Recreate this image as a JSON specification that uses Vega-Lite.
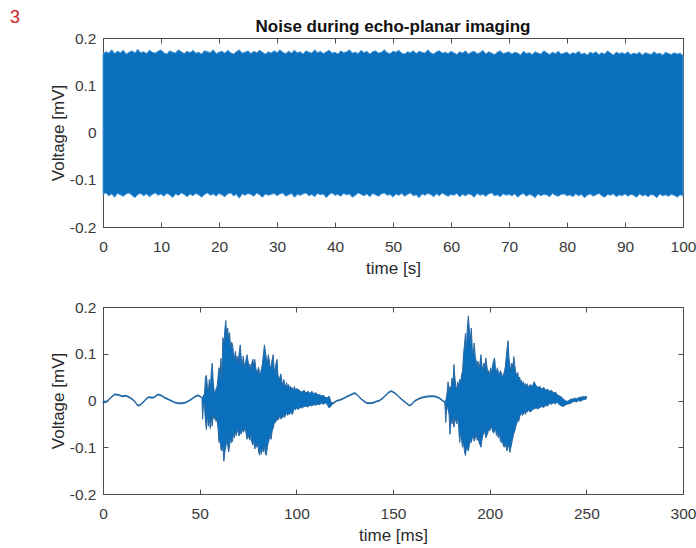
{
 "$schema": "https://vega.github.io/schema/vega-lite/v6.json",
 "autosize": {"type": "none"},
 "padding": {"left": 103, "top": 38, "right": 593, "bottom": 510},
 "background": "white",
 "title": {"text": "3", "anchor": "start", "frame": "group", "color": "#d2232a", "fontSize": 18, "fontWeight": "normal", "font": "Liberation Sans", "dx": -93, "offset": -9},
 "config": {
  "font": "Liberation Sans",
  "view": {"stroke": "#4d4d4d", "strokeWidth": 1},
  "axis": {"domainColor": "#4d4d4d", "tickColor": "#4d4d4d", "labelColor": "#3a3a3a", "labelFontSize": 15.5, "titleFontSize": 17, "titleFontWeight": "normal", "titleColor": "#2b2b2b", "grid": false, "tickSize": -5, "labelFlush": false, "labelOverlap": false, "labelBound": false}
 },
 "datasets": {
  "epi": [
{"t":0,"lo":-0.131,"hi":0.166},{"t":0.5,"lo":-0.128,"hi":0.171},{"t":1,"lo":-0.134,"hi":0.168},{"t":1.5,"lo":-0.13,"hi":0.175},{"t":2,"lo":-0.137,"hi":0.167},{"t":2.5,"lo":-0.129,"hi":0.172},{"t":3,"lo":-0.132,"hi":0.169},{"t":3.5,"lo":-0.135,"hi":0.174},{"t":4,"lo":-0.13,"hi":0.166},{"t":4.5,"lo":-0.128,"hi":0.17},{"t":5,"lo":-0.133,"hi":0.173},{"t":5.5,"lo":-0.138,"hi":0.168},{"t":6,"lo":-0.131,"hi":0.176},{"t":6.5,"lo":-0.129,"hi":0.169},{"t":7,"lo":-0.134,"hi":0.171},{"t":7.5,"lo":-0.13,"hi":0.167},{"t":8,"lo":-0.136,"hi":0.174},{"t":8.5,"lo":-0.131,"hi":0.17},{"t":9,"lo":-0.128,"hi":0.168},{"t":9.5,"lo":-0.133,"hi":0.172},{"t":10,"lo":-0.13,"hi":0.175},
{"t":10.5,"lo":-0.135,"hi":0.169},{"t":11,"lo":-0.129,"hi":0.166},{"t":11.5,"lo":-0.132,"hi":0.173},{"t":12,"lo":-0.138,"hi":0.17},{"t":12.5,"lo":-0.13,"hi":0.168},{"t":13,"lo":-0.133,"hi":0.175},{"t":13.5,"lo":-0.128,"hi":0.171},{"t":14,"lo":-0.131,"hi":0.167},{"t":14.5,"lo":-0.136,"hi":0.172},{"t":15,"lo":-0.13,"hi":0.169},{"t":15.5,"lo":-0.134,"hi":0.174},{"t":16,"lo":-0.129,"hi":0.168},{"t":16.5,"lo":-0.132,"hi":0.17},{"t":17,"lo":-0.137,"hi":0.166},{"t":17.5,"lo":-0.131,"hi":0.173},{"t":18,"lo":-0.128,"hi":0.171},{"t":18.5,"lo":-0.133,"hi":0.169},{"t":19,"lo":-0.13,"hi":0.175},{"t":19.5,"lo":-0.135,"hi":0.167},{"t":20,"lo":-0.129,"hi":0.17},
{"t":20.5,"lo":-0.132,"hi":0.172},{"t":21,"lo":-0.136,"hi":0.168},{"t":21.5,"lo":-0.13,"hi":0.174},{"t":22,"lo":-0.128,"hi":0.169},{"t":22.5,"lo":-0.134,"hi":0.166},{"t":23,"lo":-0.131,"hi":0.171},{"t":23.5,"lo":-0.139,"hi":0.175},{"t":24,"lo":-0.13,"hi":0.168},{"t":24.5,"lo":-0.133,"hi":0.17},{"t":25,"lo":-0.129,"hi":0.173},{"t":25.5,"lo":-0.131,"hi":0.167},{"t":26,"lo":-0.135,"hi":0.172},{"t":26.5,"lo":-0.128,"hi":0.169},{"t":27,"lo":-0.132,"hi":0.174},{"t":27.5,"lo":-0.137,"hi":0.17},{"t":28,"lo":-0.13,"hi":0.166},{"t":28.5,"lo":-0.133,"hi":0.171},{"t":29,"lo":-0.131,"hi":0.168},{"t":29.5,"lo":-0.129,"hi":0.173},{"t":30,"lo":-0.134,"hi":0.169},
{"t":30.5,"lo":-0.13,"hi":0.175},{"t":31,"lo":-0.128,"hi":0.17},{"t":31.5,"lo":-0.135,"hi":0.167},{"t":32,"lo":-0.132,"hi":0.172},{"t":32.5,"lo":-0.129,"hi":0.168},{"t":33,"lo":-0.137,"hi":0.174},{"t":33.5,"lo":-0.131,"hi":0.169},{"t":34,"lo":-0.133,"hi":0.171},{"t":34.5,"lo":-0.13,"hi":0.166},{"t":35,"lo":-0.128,"hi":0.173},{"t":35.5,"lo":-0.134,"hi":0.17},{"t":36,"lo":-0.131,"hi":0.168},{"t":36.5,"lo":-0.136,"hi":0.175},{"t":37,"lo":-0.129,"hi":0.169},{"t":37.5,"lo":-0.132,"hi":0.172},{"t":38,"lo":-0.13,"hi":0.167},{"t":38.5,"lo":-0.138,"hi":0.171},{"t":39,"lo":-0.131,"hi":0.174},{"t":39.5,"lo":-0.128,"hi":0.168},{"t":40,"lo":-0.133,"hi":0.17},
{"t":40.5,"lo":-0.131,"hi":0.166},{"t":41,"lo":-0.135,"hi":0.173},{"t":41.5,"lo":-0.129,"hi":0.169},{"t":42,"lo":-0.132,"hi":0.171},{"t":42.5,"lo":-0.13,"hi":0.175},{"t":43,"lo":-0.137,"hi":0.168},{"t":43.5,"lo":-0.133,"hi":0.17},{"t":44,"lo":-0.128,"hi":0.167},{"t":44.5,"lo":-0.131,"hi":0.174},{"t":45,"lo":-0.134,"hi":0.169},{"t":45.5,"lo":-0.13,"hi":0.172},{"t":46,"lo":-0.136,"hi":0.166},{"t":46.5,"lo":-0.129,"hi":0.171},{"t":47,"lo":-0.132,"hi":0.173},{"t":47.5,"lo":-0.135,"hi":0.168},{"t":48,"lo":-0.13,"hi":0.17},{"t":48.5,"lo":-0.128,"hi":0.175},{"t":49,"lo":-0.133,"hi":0.169},{"t":49.5,"lo":-0.131,"hi":0.167},{"t":50,"lo":-0.137,"hi":0.172},
{"t":50.5,"lo":-0.13,"hi":0.17},{"t":51,"lo":-0.133,"hi":0.174},{"t":51.5,"lo":-0.129,"hi":0.168},{"t":52,"lo":-0.135,"hi":0.166},{"t":52.5,"lo":-0.131,"hi":0.171},{"t":53,"lo":-0.128,"hi":0.169},{"t":53.5,"lo":-0.134,"hi":0.173},{"t":54,"lo":-0.132,"hi":0.167},{"t":54.5,"lo":-0.138,"hi":0.172},{"t":55,"lo":-0.13,"hi":0.17},{"t":55.5,"lo":-0.133,"hi":0.168},{"t":56,"lo":-0.129,"hi":0.175},{"t":56.5,"lo":-0.131,"hi":0.169},{"t":57,"lo":-0.136,"hi":0.166},{"t":57.5,"lo":-0.13,"hi":0.171},{"t":58,"lo":-0.134,"hi":0.173},{"t":58.5,"lo":-0.128,"hi":0.168},{"t":59,"lo":-0.132,"hi":0.17},{"t":59.5,"lo":-0.135,"hi":0.167},{"t":60,"lo":-0.131,"hi":0.172},
{"t":60.5,"lo":-0.133,"hi":0.169},{"t":61,"lo":-0.129,"hi":0.165},{"t":61.5,"lo":-0.136,"hi":0.171},{"t":62,"lo":-0.131,"hi":0.168},{"t":62.5,"lo":-0.134,"hi":0.173},{"t":63,"lo":-0.13,"hi":0.166},{"t":63.5,"lo":-0.132,"hi":0.17},{"t":64,"lo":-0.137,"hi":0.172},{"t":64.5,"lo":-0.129,"hi":0.167},{"t":65,"lo":-0.133,"hi":0.169},{"t":65.5,"lo":-0.131,"hi":0.174},{"t":66,"lo":-0.135,"hi":0.166},{"t":66.5,"lo":-0.13,"hi":0.171},{"t":67,"lo":-0.128,"hi":0.168},{"t":67.5,"lo":-0.134,"hi":0.165},{"t":68,"lo":-0.132,"hi":0.17},{"t":68.5,"lo":-0.136,"hi":0.173},{"t":69,"lo":-0.13,"hi":0.167},{"t":69.5,"lo":-0.133,"hi":0.169},{"t":70,"lo":-0.131,"hi":0.171},
{"t":70.5,"lo":-0.134,"hi":0.166},{"t":71,"lo":-0.13,"hi":0.17},{"t":71.5,"lo":-0.137,"hi":0.168},{"t":72,"lo":-0.132,"hi":0.164},{"t":72.5,"lo":-0.129,"hi":0.172},{"t":73,"lo":-0.135,"hi":0.167},{"t":73.5,"lo":-0.131,"hi":0.169},{"t":74,"lo":-0.133,"hi":0.165},{"t":74.5,"lo":-0.138,"hi":0.171},{"t":75,"lo":-0.13,"hi":0.168},{"t":75.5,"lo":-0.134,"hi":0.166},{"t":76,"lo":-0.131,"hi":0.173},{"t":76.5,"lo":-0.132,"hi":0.169},{"t":77,"lo":-0.136,"hi":0.165},{"t":77.5,"lo":-0.129,"hi":0.17},{"t":78,"lo":-0.133,"hi":0.167},{"t":78.5,"lo":-0.135,"hi":0.172},{"t":79,"lo":-0.131,"hi":0.166},{"t":79.5,"lo":-0.13,"hi":0.168},{"t":80,"lo":-0.134,"hi":0.17},
{"t":80.5,"lo":-0.132,"hi":0.165},{"t":81,"lo":-0.136,"hi":0.169},{"t":81.5,"lo":-0.13,"hi":0.167},{"t":82,"lo":-0.134,"hi":0.172},{"t":82.5,"lo":-0.131,"hi":0.166},{"t":83,"lo":-0.138,"hi":0.168},{"t":83.5,"lo":-0.133,"hi":0.164},{"t":84,"lo":-0.13,"hi":0.17},{"t":84.5,"lo":-0.135,"hi":0.167},{"t":85,"lo":-0.132,"hi":0.171},{"t":85.5,"lo":-0.129,"hi":0.165},{"t":86,"lo":-0.134,"hi":0.169},{"t":86.5,"lo":-0.137,"hi":0.166},{"t":87,"lo":-0.131,"hi":0.173},{"t":87.5,"lo":-0.133,"hi":0.168},{"t":88,"lo":-0.13,"hi":0.164},{"t":88.5,"lo":-0.136,"hi":0.17},{"t":89,"lo":-0.132,"hi":0.167},{"t":89.5,"lo":-0.134,"hi":0.169},{"t":90,"lo":-0.13,"hi":0.166},
{"t":90.5,"lo":-0.135,"hi":0.171},{"t":91,"lo":-0.131,"hi":0.165},{"t":91.5,"lo":-0.133,"hi":0.168},{"t":92,"lo":-0.137,"hi":0.166},{"t":92.5,"lo":-0.13,"hi":0.17},{"t":93,"lo":-0.134,"hi":0.164},{"t":93.5,"lo":-0.132,"hi":0.169},{"t":94,"lo":-0.136,"hi":0.167},{"t":94.5,"lo":-0.131,"hi":0.165},{"t":95,"lo":-0.133,"hi":0.171},{"t":95.5,"lo":-0.138,"hi":0.166},{"t":96,"lo":-0.13,"hi":0.168},{"t":96.5,"lo":-0.134,"hi":0.164},{"t":97,"lo":-0.132,"hi":0.17},{"t":97.5,"lo":-0.135,"hi":0.167},{"t":98,"lo":-0.131,"hi":0.165},{"t":98.5,"lo":-0.133,"hi":0.169},{"t":99,"lo":-0.137,"hi":0.166},{"t":99.5,"lo":-0.132,"hi":0.168},{"t":100,"lo":-0.134,"hi":0.163}
  ],
  "zoom": [
{"t":0,"lo":-0.006,"hi":-0.002},{"t":2,"lo":-0.003,"hi":-0.001},{"t":4,"lo":0.005,"hi":0.007},{"t":6,"lo":0.012,"hi":0.014},{"t":8,"lo":0.011,"hi":0.013},{"t":10,"lo":0.008,"hi":0.01},{"t":12,"lo":0.009,"hi":0.011},{"t":14,"lo":0.005,"hi":0.007},{"t":16,"lo":-0.001,"hi":0.001},{"t":18,"lo":-0.012,"hi":-0.01},{"t":19,"lo":-0.011,"hi":-0.009},{"t":20.5,"lo":-0.006,"hi":-0.004},{"t":22,"lo":0.001,"hi":0.003},{"t":23.5,"lo":0.006,"hi":0.008},{"t":26,"lo":0.005,"hi":0.007},{"t":28.5,"lo":0.012,"hi":0.014},{"t":30,"lo":0.01,"hi":0.012},{"t":32,"lo":0.005,"hi":0.007},{"t":34,"lo":0.001,"hi":0.003},{"t":35.5,"lo":-0.002,"hi":0.0},{"t":37,"lo":-0.005,"hi":-0.003},{"t":39,"lo":-0.007,"hi":-0.005},{"t":41,"lo":-0.007,"hi":-0.005},{"t":43,"lo":-0.005,"hi":-0.003},{"t":45.5,"lo":0.001,"hi":0.003},{"t":47.5,"lo":0.007,"hi":0.009},{"t":49,"lo":0.01,"hi":0.012},{"t":50.5,"lo":0.007,"hi":0.009},{"t":51.2,"lo":0.004,"hi":0.006},
{"t":51.5,"lo":-0.04,"hi":0.008},{"t":52,"lo":-0.005,"hi":0.01},{"t":52.5,"lo":-0.012,"hi":0.015},{"t":53,"lo":-0.045,"hi":0.05},{"t":53.5,"lo":-0.062,"hi":0.054},{"t":54,"lo":-0.03,"hi":0.03},{"t":54.5,"lo":-0.055,"hi":0.02},{"t":55,"lo":-0.04,"hi":0.045},{"t":55.5,"lo":-0.06,"hi":0.025},{"t":56,"lo":-0.035,"hi":0.06},{"t":56.5,"lo":-0.055,"hi":0.08},{"t":57,"lo":-0.03,"hi":0.04},{"t":57.5,"lo":-0.04,"hi":0.02},{"t":58,"lo":-0.035,"hi":0.015},{"t":58.5,"lo":-0.045,"hi":0.025},{"t":59,"lo":-0.04,"hi":0.03},{"t":59.5,"lo":-0.06,"hi":0.05},{"t":60,"lo":-0.09,"hi":0.07},{"t":60.5,"lo":-0.085,"hi":0.06},{"t":61,"lo":-0.104,"hi":0.09},{"t":61.5,"lo":-0.108,"hi":0.05},{"t":62,"lo":-0.095,"hi":0.134},{"t":62.5,"lo":-0.13,"hi":0.12},{"t":63,"lo":-0.11,"hi":0.15},{"t":63.5,"lo":-0.1,"hi":0.171},{"t":64,"lo":-0.085,"hi":0.14},{"t":64.5,"lo":-0.095,"hi":0.155},{"t":65,"lo":-0.11,"hi":0.13},{"t":65.5,"lo":-0.097,"hi":0.145},{"t":66,"lo":-0.08,"hi":0.11},{"t":66.5,"lo":-0.09,"hi":0.125},{"t":67,"lo":-0.087,"hi":0.12},{"t":67.5,"lo":-0.07,"hi":0.1},{"t":68,"lo":-0.08,"hi":0.09},{"t":68.5,"lo":-0.065,"hi":0.105},{"t":69,"lo":-0.075,"hi":0.085},{"t":69.5,"lo":-0.06,"hi":0.095},{"t":70,"lo":-0.07,"hi":0.08},{"t":70.5,"lo":-0.076,"hi":0.105},{"t":71,"lo":-0.065,"hi":0.119},{"t":71.5,"lo":-0.072,"hi":0.09},{"t":72,"lo":-0.06,"hi":0.075},{"t":72.5,"lo":-0.068,"hi":0.095},{"t":73,"lo":-0.065,"hi":0.08},{"t":73.5,"lo":-0.058,"hi":0.07},{"t":74,"lo":-0.07,"hi":0.088},{"t":74.5,"lo":-0.083,"hi":0.098},{"t":75,"lo":-0.075,"hi":0.085},{"t":75.5,"lo":-0.08,"hi":0.07},{"t":76,"lo":-0.085,"hi":0.078},{"t":76.5,"lo":-0.07,"hi":0.065},{"t":77,"lo":-0.09,"hi":0.08},{"t":77.5,"lo":-0.095,"hi":0.088},{"t":78,"lo":-0.085,"hi":0.075},{"t":78.5,"lo":-0.104,"hi":0.088},{"t":79,"lo":-0.095,"hi":0.07},{"t":79.5,"lo":-0.1,"hi":0.06},{"t":80,"lo":-0.09,"hi":0.065},{"t":80.5,"lo":-0.11,"hi":0.071},{"t":81,"lo":-0.117,"hi":0.055},{"t":81.5,"lo":-0.105,"hi":0.06},{"t":82,"lo":-0.115,"hi":0.068},{"t":82.5,"lo":-0.1,"hi":0.08},{"t":83,"lo":-0.11,"hi":0.1},{"t":83.5,"lo":-0.095,"hi":0.119},{"t":84,"lo":-0.115,"hi":0.105},{"t":84.5,"lo":-0.117,"hi":0.09},{"t":85,"lo":-0.1,"hi":0.08},{"t":85.5,"lo":-0.09,"hi":0.098},{"t":86,"lo":-0.083,"hi":0.085},{"t":86.5,"lo":-0.075,"hi":0.07},{"t":87,"lo":-0.083,"hi":0.075},{"t":87.5,"lo":-0.065,"hi":0.088},{"t":88,"lo":-0.06,"hi":0.098},{"t":88.5,"lo":-0.05,"hi":0.07},{"t":89,"lo":-0.047,"hi":0.06},{"t":89.5,"lo":-0.045,"hi":0.08},{"t":90,"lo":-0.04,"hi":0.088},{"t":90.5,"lo":-0.042,"hi":0.055},{"t":91,"lo":-0.038,"hi":0.045},{"t":91.5,"lo":-0.033,"hi":0.05},{"t":92,"lo":-0.04,"hi":0.057},{"t":92.5,"lo":-0.035,"hi":0.04},{"t":93,"lo":-0.037,"hi":0.035},{"t":93.5,"lo":-0.03,"hi":0.045},{"t":94,"lo":-0.036,"hi":0.034},{"t":94.5,"lo":-0.03,"hi":0.03},{"t":95,"lo":-0.028,"hi":0.038},{"t":95.5,"lo":-0.032,"hi":0.028},{"t":96,"lo":-0.026,"hi":0.034},{"t":96.5,"lo":-0.03,"hi":0.025},{"t":97,"lo":-0.025,"hi":0.03},{"t":97.5,"lo":-0.027,"hi":0.026},{"t":98,"lo":-0.03,"hi":0.027},{"t":98.5,"lo":-0.022,"hi":0.022},{"t":99,"lo":-0.018,"hi":0.03},{"t":99.5,"lo":-0.02,"hi":0.022},{"t":100,"lo":-0.016,"hi":0.025},{"t":101,"lo":-0.019,"hi":0.024},{"t":102,"lo":-0.015,"hi":0.02},{"t":103,"lo":-0.016,"hi":0.018},{"t":104,"lo":-0.013,"hi":0.022},{"t":105,"lo":-0.012,"hi":0.016},{"t":106,"lo":-0.014,"hi":0.02},{"t":107,"lo":-0.01,"hi":0.015},{"t":108,"lo":-0.012,"hi":0.02},{"t":109,"lo":-0.009,"hi":0.014},{"t":110,"lo":-0.01,"hi":0.017},{"t":111,"lo":-0.008,"hi":0.012},{"t":112,"lo":-0.009,"hi":0.013},{"t":113,"lo":-0.006,"hi":0.01},{"t":114,"lo":-0.008,"hi":0.011},{"t":115,"lo":-0.005,"hi":0.007},{"t":116,"lo":-0.009,"hi":0.006},{"t":117,"lo":-0.016,"hi":0.009},{"t":118,"lo":-0.011,"hi":-0.004},
{"t":119,"lo":-0.007,"hi":-0.005},{"t":120.7,"lo":-0.002,"hi":0.0},{"t":122.5,"lo":0.0,"hi":0.002},{"t":124.2,"lo":0.003,"hi":0.005},{"t":126,"lo":0.007,"hi":0.009},{"t":127.6,"lo":0.01,"hi":0.012},{"t":129,"lo":0.013,"hi":0.015},{"t":130.2,"lo":0.015,"hi":0.017},{"t":131.5,"lo":0.011,"hi":0.013},{"t":132.8,"lo":0.005,"hi":0.007},{"t":134.5,"lo":-0.001,"hi":0.001},{"t":136.2,"lo":-0.006,"hi":-0.004},{"t":138,"lo":-0.007,"hi":-0.005},{"t":139.7,"lo":-0.006,"hi":-0.004},{"t":141.5,"lo":-0.003,"hi":-0.001},{"t":143.1,"lo":-0.001,"hi":0.001},{"t":145,"lo":0.005,"hi":0.007},{"t":146.6,"lo":0.012,"hi":0.014},{"t":148,"lo":0.017,"hi":0.019},{"t":149.2,"lo":0.019,"hi":0.021},{"t":150.5,"lo":0.016,"hi":0.018},{"t":151.8,"lo":0.012,"hi":0.014},{"t":153.5,"lo":0.005,"hi":0.007},{"t":155.2,"lo":-0.001,"hi":0.001},{"t":157,"lo":-0.007,"hi":-0.005},{"t":158.7,"lo":-0.012,"hi":-0.01},{"t":160,"lo":-0.008,"hi":-0.006},{"t":161.2,"lo":-0.002,"hi":0.0},{"t":163,"lo":0.002,"hi":0.004},{"t":164.7,"lo":0.005,"hi":0.007},{"t":167,"lo":0.007,"hi":0.009},{"t":169,"lo":0.008,"hi":0.01},{"t":171,"lo":0.008,"hi":0.01},{"t":172.4,"lo":0.007,"hi":0.009},{"t":174,"lo":0.004,"hi":0.006},{"t":175.9,"lo":-0.002,"hi":0.0},{"t":176.8,"lo":-0.004,"hi":-0.002},
{"t":177.3,"lo":-0.047,"hi":0.0},{"t":177.8,"lo":-0.01,"hi":0.01},{"t":178.5,"lo":-0.02,"hi":0.04},{"t":179,"lo":-0.03,"hi":0.02},{"t":179.5,"lo":-0.072,"hi":0.03},{"t":180,"lo":-0.04,"hi":0.025},{"t":180.5,"lo":-0.05,"hi":0.048},{"t":181,"lo":-0.035,"hi":0.035},{"t":181.5,"lo":-0.057,"hi":0.077},{"t":182,"lo":-0.045,"hi":0.05},{"t":182.5,"lo":-0.04,"hi":0.03},{"t":183,"lo":-0.05,"hi":0.025},{"t":183.5,"lo":-0.035,"hi":0.04},{"t":184,"lo":-0.06,"hi":0.03},{"t":184.5,"lo":-0.09,"hi":0.045},{"t":185,"lo":-0.07,"hi":0.04},{"t":185.5,"lo":-0.085,"hi":0.055},{"t":186,"lo":-0.1,"hi":0.064},{"t":186.5,"lo":-0.09,"hi":0.1},{"t":187,"lo":-0.11,"hi":0.12},{"t":187.5,"lo":-0.118,"hi":0.144},{"t":188,"lo":-0.1,"hi":0.11},{"t":188.5,"lo":-0.105,"hi":0.16},{"t":189,"lo":-0.108,"hi":0.181},{"t":189.5,"lo":-0.095,"hi":0.15},{"t":190,"lo":-0.085,"hi":0.13},{"t":190.5,"lo":-0.09,"hi":0.155},{"t":191,"lo":-0.08,"hi":0.11},{"t":191.5,"lo":-0.075,"hi":0.1},{"t":192,"lo":-0.087,"hi":0.123},{"t":192.5,"lo":-0.08,"hi":0.095},{"t":193,"lo":-0.07,"hi":0.085},{"t":193.5,"lo":-0.085,"hi":0.075},{"t":194,"lo":-0.078,"hi":0.084},{"t":194.5,"lo":-0.09,"hi":0.07},{"t":195,"lo":-0.095,"hi":0.08},{"t":195.5,"lo":-0.1,"hi":0.098},{"t":196,"lo":-0.085,"hi":0.075},{"t":196.5,"lo":-0.075,"hi":0.065},{"t":197,"lo":-0.07,"hi":0.08},{"t":197.5,"lo":-0.065,"hi":0.07},{"t":198,"lo":-0.08,"hi":0.091},{"t":198.5,"lo":-0.075,"hi":0.075},{"t":199,"lo":-0.07,"hi":0.06},{"t":199.5,"lo":-0.06,"hi":0.064},{"t":200,"lo":-0.065,"hi":0.055},{"t":200.5,"lo":-0.06,"hi":0.07},{"t":201,"lo":-0.055,"hi":0.06},{"t":201.5,"lo":-0.065,"hi":0.075},{"t":202,"lo":-0.07,"hi":0.085},{"t":202.5,"lo":-0.065,"hi":0.091},{"t":203,"lo":-0.06,"hi":0.07},{"t":203.5,"lo":-0.075,"hi":0.06},{"t":204,"lo":-0.068,"hi":0.07},{"t":204.5,"lo":-0.08,"hi":0.06},{"t":205,"lo":-0.07,"hi":0.055},{"t":205.5,"lo":-0.085,"hi":0.064},{"t":206,"lo":-0.09,"hi":0.06},{"t":206.5,"lo":-0.085,"hi":0.05},{"t":207,"lo":-0.095,"hi":0.055},{"t":207.5,"lo":-0.1,"hi":0.06},{"t":208,"lo":-0.092,"hi":0.07},{"t":208.5,"lo":-0.1,"hi":0.09},{"t":209,"lo":-0.108,"hi":0.11},{"t":209.5,"lo":-0.095,"hi":0.128},{"t":210,"lo":-0.1,"hi":0.09},{"t":210.5,"lo":-0.111,"hi":0.075},{"t":211,"lo":-0.1,"hi":0.065},{"t":211.5,"lo":-0.09,"hi":0.08},{"t":212,"lo":-0.08,"hi":0.07},{"t":212.5,"lo":-0.07,"hi":0.094},{"t":213,"lo":-0.065,"hi":0.075},{"t":213.5,"lo":-0.055,"hi":0.06},{"t":214,"lo":-0.05,"hi":0.055},{"t":214.5,"lo":-0.04,"hi":0.06},{"t":215,"lo":-0.045,"hi":0.045},{"t":215.5,"lo":-0.035,"hi":0.05},{"t":216,"lo":-0.03,"hi":0.04},{"t":216.5,"lo":-0.028,"hi":0.043},{"t":217,"lo":-0.032,"hi":0.035},{"t":217.5,"lo":-0.028,"hi":0.04},{"t":218,"lo":-0.025,"hi":0.032},{"t":218.5,"lo":-0.03,"hi":0.036},{"t":219,"lo":-0.022,"hi":0.03},{"t":219.5,"lo":-0.025,"hi":0.036},{"t":220,"lo":-0.02,"hi":0.028},{"t":221,"lo":-0.025,"hi":0.034},{"t":222,"lo":-0.02,"hi":0.03},{"t":223,"lo":-0.018,"hi":0.04},{"t":224,"lo":-0.016,"hi":0.032},{"t":225,"lo":-0.018,"hi":0.028},{"t":226,"lo":-0.015,"hi":0.03},{"t":227,"lo":-0.013,"hi":0.024},{"t":228,"lo":-0.015,"hi":0.028},{"t":229,"lo":-0.01,"hi":0.022},{"t":230,"lo":-0.012,"hi":0.024},{"t":231,"lo":-0.006,"hi":0.02},{"t":232,"lo":-0.008,"hi":0.022},{"t":233,"lo":-0.005,"hi":0.016},{"t":234,"lo":-0.007,"hi":0.018},{"t":235,"lo":-0.004,"hi":0.012},{"t":236,"lo":-0.009,"hi":0.01},{"t":237,"lo":-0.011,"hi":0.008},{"t":238,"lo":-0.013,"hi":0.004},{"t":239,"lo":-0.01,"hi":0.0},{"t":240,"lo":-0.008,"hi":-0.002},{"t":241,"lo":-0.007,"hi":0.0},{"t":242,"lo":-0.006,"hi":0.003},{"t":243,"lo":-0.003,"hi":0.003},{"t":244,"lo":-0.002,"hi":0.005},{"t":245,"lo":-0.003,"hi":0.004},{"t":246,"lo":0.0,"hi":0.006},{"t":247,"lo":-0.002,"hi":0.007},{"t":248,"lo":0.001,"hi":0.008},{"t":249,"lo":0.002,"hi":0.008},{"t":250,"lo":0.003,"hi":0.009}
  ]
 },
 "bounds": "flush",
 "spacing": 80,
 "vconcat": [
  {
   "width": 580,
   "height": 189,
   "title": {"text": "Noise during echo-planar imaging", "fontSize": 17, "fontWeight": "bold", "color": "#111111", "anchor": "middle", "offset": -5},
   "data": {"name": "epi"},
   "layer": [
    {
     "mark": {"type": "area", "color": "#0a6fbd", "stroke": "#4b9ad9", "strokeWidth": 1},
     "encoding": {
      "x": {"field": "t", "type": "quantitative", "scale": {"domain": [0, 100], "nice": false, "zero": false},
            "axis": {"values": [0,10,20,30,40,50,60,70,80,90,100], "format": "d", "labelPadding": 17, "title": "time [s]", "titlePadding": 6}},
      "y": {"field": "lo", "type": "quantitative", "scale": {"domain": [-0.2, 0.2], "nice": false, "zero": false},
            "axis": {"values": [-0.2,-0.1,0,0.1,0.2], "labelPadding": 12, "title": "Voltage [mV]", "titlePadding": 2,
                     "labelExpr": "datum.value === 0 ? '0' : (datum.value < 0 ? '-' + format(-datum.value, '.1f') : format(datum.value, '.1f'))"}},
      "y2": {"field": "hi"}
     }
    },
    {
     "mark": {"type": "line", "opacity": 0},
     "encoding": {
      "x": {"field": "t", "type": "quantitative", "axis": {"orient": "top", "values": [0,10,20,30,40,50,60,70,80,90,100], "labels": false, "title": null, "domain": true}},
      "y": {"field": "hi", "type": "quantitative", "axis": {"orient": "right", "values": [-0.2,-0.1,0,0.1,0.2], "labels": false, "title": null, "domain": true}}
     }
    }
   ],
   "resolve": {"axis": {"x": "independent", "y": "independent"}}
  },
  {
   "width": 580,
   "height": 187,
   "data": {"name": "zoom"},
   "layer": [
    {
     "mark": {"type": "area", "color": "#0a6fbd", "stroke": "#2868a3", "strokeWidth": 1},
     "encoding": {
      "x": {"field": "t", "type": "quantitative", "scale": {"domain": [0, 300], "nice": false, "zero": false},
            "axis": {"values": [0,50,100,150,200,250,300], "format": "d", "labelPadding": 17, "title": "time [ms]", "titlePadding": 6}},
      "y": {"field": "lo", "type": "quantitative", "scale": {"domain": [-0.2, 0.2], "nice": false, "zero": false},
            "axis": {"values": [-0.2,-0.1,0,0.1,0.2], "labelPadding": 12, "title": "Voltage [mV]", "titlePadding": 2,
                     "labelExpr": "datum.value === 0 ? '0' : (datum.value < 0 ? '-' + format(-datum.value, '.1f') : format(datum.value, '.1f'))"}},
      "y2": {"field": "hi"}
     }
    },
    {
     "mark": {"type": "line", "opacity": 0},
     "encoding": {
      "x": {"field": "t", "type": "quantitative", "axis": {"orient": "top", "values": [0,50,100,150,200,250,300], "labels": false, "title": null, "domain": true}},
      "y": {"field": "hi", "type": "quantitative", "axis": {"orient": "right", "values": [-0.2,-0.1,0,0.1,0.2], "labels": false, "title": null, "domain": true}}
     }
    }
   ],
   "resolve": {"axis": {"x": "independent", "y": "independent"}}
  }
 ]
}
